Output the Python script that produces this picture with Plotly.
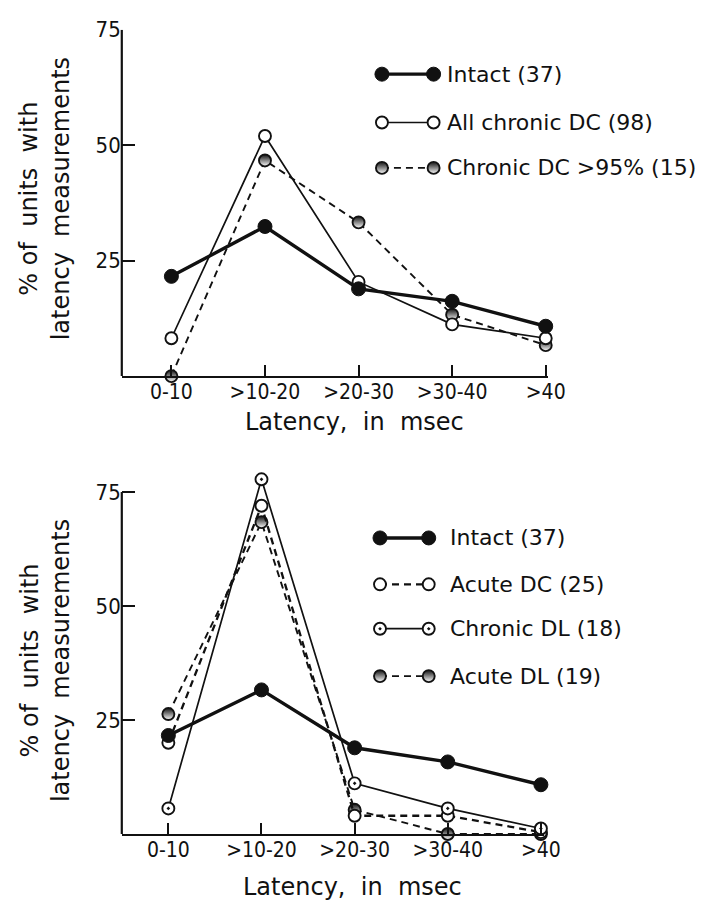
import plotly.graph_objects as go

# ---------------- data ----------------
categories = ["0-10", ">10-20", ">20-30", ">30-40", ">40"]

# top panel
intact_top = [21.6, 32.4, 18.9, 16.2, 10.8]
all_chronic_dc = [8.2, 52.0, 20.4, 11.2, 8.2]
chronic_dc_95 = [0.0, 46.7, 33.3, 13.3, 6.7]

# bottom panel
intact_bot = [21.6, 31.6, 18.9, 15.8, 10.8]
acute_dc = [20.0, 72.0, 4.0, 4.0, 0.4]
chronic_dl = [5.6, 77.8, 11.1, 5.6, 1.2]
acute_dl = [26.3, 68.4, 5.3, 0.0, 0.0]

top_names = ["Intact (37)", "All chronic DC (98)", "Chronic DC >95% (15)"]
bot_names = ["Intact (37)", "Acute DC (25)", "Chronic DL (18)", "Acute DL (19)"]
y_ticks = [25, 50, 75]

# ---------------- styles ----------------
W, H = 702, 906
BLACK = "#111111"
TXT_FONT = "DejaVu Sans, Verdana, sans-serif"
TICK_FONT = "DejaVu Sans Condensed, Liberation Sans Narrow, sans-serif"

STY = {
    "intact": dict(line=dict(color=BLACK, width=3.4),
                   marker=dict(symbol="circle", size=14, color=BLACK,
                               line=dict(color=BLACK, width=1))),
    "open_solid": dict(line=dict(color=BLACK, width=1.7),
                       marker=dict(symbol="circle", size=12, color="white",
                                   line=dict(color=BLACK, width=1.9))),
    "half_dash": dict(line=dict(color=BLACK, width=1.9, dash="7px,5px"),
                      marker=dict(symbol="circle", size=12, color=BLACK,
                                  gradient=dict(type="vertical", color="white"),
                                  line=dict(color=BLACK, width=1.9))),
    "open_dash": dict(line=dict(color=BLACK, width=2.3, dash="7px,5px"),
                      marker=dict(symbol="circle", size=12, color="white",
                                  line=dict(color=BLACK, width=1.9))),
    "dot_solid": dict(line=dict(color=BLACK, width=1.7),
                      marker=dict(symbol="circle-dot", size=12, color="white",
                                  line=dict(color=BLACK, width=1.9))),
}

fig = go.Figure()


def add_series(x, y, style, xa, ya):
    s = STY[style]
    fig.add_trace(go.Scatter(x=x, y=y, mode="lines+markers", xaxis=xa, yaxis=ya,
                             line=s["line"], marker=s["marker"],
                             cliponaxis=False, showlegend=False, hoverinfo="skip"))


# top panel series
add_series(categories, chronic_dc_95, "half_dash", "x", "y")
add_series(categories, all_chronic_dc, "open_solid", "x", "y")
add_series(categories, intact_top, "intact", "x", "y")

# bottom panel series
add_series(categories, acute_dl, "half_dash", "x2", "y2")
add_series(categories, acute_dc, "open_dash", "x2", "y2")
add_series(categories, chronic_dl, "dot_solid", "x2", "y2")
add_series(categories, intact_bot, "intact", "x2", "y2")

# ---------------- legends (drawn on a pixel overlay axis) ----------------
top_leg = dict(x0=392, x1=445, xt=457, rows=[63, 112, 158],
               styles=["intact", "open_solid", "half_dash"])
bot_leg = dict(x0=390, x1=440, xt=460, rows=[533, 580, 625, 673],
               styles=["intact", "open_dash", "dot_solid", "half_dash"])

annotations = []
for leg, names in ((top_leg, top_names), (bot_leg, bot_names)):
    for yy, st, nm in zip(leg["rows"], leg["styles"], names):
        s = STY[st]
        fig.add_trace(go.Scatter(x=[leg["x0"], leg["x1"]], y=[yy, yy], mode="lines+markers",
                                 xaxis="x3", yaxis="y3", line=s["line"], marker=s["marker"],
                                 cliponaxis=False, showlegend=False, hoverinfo="skip"))
        annotations.append(dict(x=leg["xt"], y=yy, xref="x3", yref="y3", text=nm,
                                showarrow=False, xanchor="left", yanchor="middle",
                                font=dict(family=TXT_FONT, size=22, color=BLACK)))

# axis titles
for yc, xc in ((416, 364), (887, 362)):
    annotations.append(dict(x=xc, y=yc, xref="x3", yref="y3", text="Latency,  in  msec",
                            showarrow=False, xanchor="center", yanchor="middle",
                            font=dict(family=TXT_FONT, size=24, color=BLACK)))
for yc in (189, 657):
    annotations.append(dict(x=46, y=yc, xref="x3", yref="y3",
                            text="% of  units  with<br>latency  measurements",
                            textangle=-90, showarrow=False, xanchor="center", yanchor="middle",
                            font=dict(family=TXT_FONT, size=24, color=BLACK)))

xcommon = dict(type="category", showline=True, linecolor=BLACK, linewidth=2.2,
               ticks="inside", ticklen=11, tickwidth=2, tickcolor=BLACK,
               showgrid=False, zeroline=False, ticklabelstandoff=-4,
               tickfont=dict(family=TICK_FONT, size=21, color=BLACK))
ycommon = dict(tickvals=y_ticks, ticktext=[str(v) for v in y_ticks],
               showline=False,
               ticks="inside", ticklen=13, tickwidth=2, tickcolor=BLACK,
               showgrid=False, zeroline=False,
               tickfont=dict(family=TICK_FONT, size=22, color=BLACK))

# bottom y extends a little above 75 so the 78% peak is not clipped; axis line drawn to 75 only
Y_TOP = 82
top_dom = [1 - 369 / H, 1 - 18 / H]
b_top_px, b_bot_px = 486.5, 833
bot_dom = [1 - b_bot_px / H, 1 - (b_bot_px - (b_bot_px - b_top_px) * Y_TOP / 75) / H]

shapes = [
    dict(type="line", xref="x domain", yref="y", x0=0, x1=0, y0=0, y1=75,
         line=dict(color=BLACK, width=2.2)),
    dict(type="line", xref="x2 domain", yref="y2", x0=0, x1=0, y0=0, y1=75,
         line=dict(color=BLACK, width=2.2)),
]

fig.update_layout(
    width=W, height=H, autosize=False,
    margin=dict(l=0, r=0, t=0, b=0, pad=0),
    paper_bgcolor="white", plot_bgcolor="rgba(0,0,0,0)",
    showlegend=False,
    xaxis=dict(xcommon, domain=[125 / W, 562 / W], range=[-0.53, 4.02], anchor="y"),
    yaxis=dict(ycommon, domain=top_dom, range=[0, 75], anchor="x"),
    xaxis2=dict(xcommon, domain=[125 / W, 558 / W], range=[-0.50, 4.03], anchor="y2"),
    yaxis2=dict(ycommon, domain=bot_dom, range=[0, Y_TOP], anchor="x2"),
    xaxis3=dict(domain=[0, 1], range=[0, W], visible=False, anchor="y3", fixedrange=True),
    yaxis3=dict(domain=[0, 1], range=[H, 0], visible=False, anchor="x3", fixedrange=True),
    annotations=annotations,
    shapes=shapes,
)

fig.write_html("out.html")
